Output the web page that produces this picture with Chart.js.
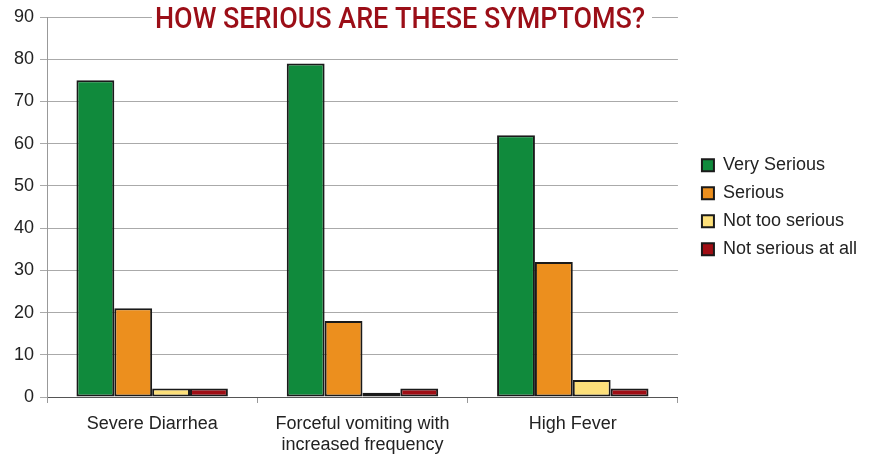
<!DOCTYPE html>
<html>
<head>
<meta charset="utf-8">
<script src="https://cdn.jsdelivr.net/npm/chart.js@4/dist/chart.umd.min.js"></script>
<style>
  body { margin: 0; background: #fff; }
  #chart { display: block; }
</style>
</head>
<body>
<canvas id="chart" width="872" height="455"></canvas>
<script>
const categories = ["Severe Diarrhea", ["Forceful vomiting with", "increased frequency"], "High Fever"];
const verySerious = [75, 79, 62];
const serious = [21, 18, 32];
const notTooSerious = [2, 1, 4];
const notSeriousAtAll = [2, 2, 2];
const yTicks = [0, 10, 20, 30, 40, 50, 60, 70, 80, 90];

// titulo encima de la grafica, con fondo blanco
const titlePlugin = {
  id: "titleOver",
  afterDraw(chart) {
    const ctx = chart.ctx;
    ctx.save();
    ctx.fillStyle = "#fff";
    ctx.fillRect(152, 4, 500, 32);
    ctx.fillStyle = "#9b0e17";
    ctx.font = "500 29px Roboto";
    ctx.textAlign = "left";
    ctx.textBaseline = "middle";
    ctx.fillText("HOW SERIOUS ARE THESE SYMPTOMS?", 155, 21, 490);
    ctx.restore();
  }
};

const data = {
  labels: categories,
  datasets: [
    { label: "Very Serious", data: verySerious, backgroundColor: "#108a3c" },
    { label: "Serious", data: serious, backgroundColor: "#ec8f1e" },
    { label: "Not too serious", data: notTooSerious, backgroundColor: "#fde07a" },
    { label: "Not serious at all", data: notSeriousAtAll, backgroundColor: "#a00d14" }
  ]
};
data.datasets.forEach((d) => {
  d.borderColor = "#1a1a1a";
  d.borderWidth = 2;
  d.borderSkipped = false;
  d.categoryPercentage = 0.72;
  d.barPercentage = 1;
});

const config = {
  type: "bar",
  data,
  options: {
    responsive: false,
    animation: false,
    layout: { padding: { top: 17, right: 5, left: 0, bottom: 0 } },
    plugins: {
      legend: {
        position: "right",
        align: "start",
        maxWidth: 220,
        // titulo vacio solo para bajar la leyenda
        title: { display: true, text: " ", font: { size: 1 }, padding: { top: 128, bottom: 0 } },
        labels: {
          boxWidth: 12,
          boxHeight: 12,
          padding: 10,
          color: "#222",
          font: { family: "Liberation Sans", size: 18 }
        }
      },
      tooltip: { enabled: false }
    },
    scales: {
      x: {
        grid: { offset: true, drawOnChartArea: false, tickLength: 6, color: "#999" },
        border: { color: "#555" },
        ticks: { color: "#222", font: { family: "Liberation Sans", size: 18 }, padding: 10 },
        afterFit: (s) => { s.height = 58; }
      },
      y: {
        min: 0,
        max: 90,
        afterBuildTicks: (s) => { s.ticks = yTicks.map((v) => ({ value: v })); },
        grid: { color: "#aaa", tickLength: 7 },
        border: { color: "#999" },
        ticks: { color: "#222", font: { family: "Liberation Sans", size: 18 }, padding: 6 },
        afterFit: (s) => { s.width = 47; }
      },
      // eje vacio para dejar hueco entre grafica y leyenda
      y2: {
        position: "right",
        min: 0,
        max: 90,
        grid: { display: false },
        border: { display: false },
        ticks: { display: false },
        afterFit: (s) => { s.width = 14; }
      }
    }
  },
  plugins: [titlePlugin]
};

var myChart = new Chart(document.getElementById("chart"), config);
</script>
</body>
</html>
